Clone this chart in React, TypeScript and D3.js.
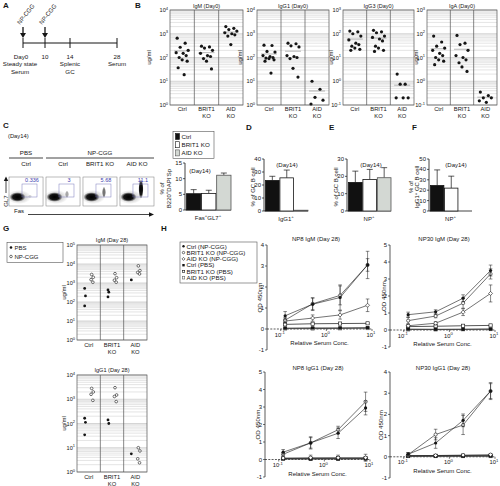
import React from 'react';
import * as d3 from 'd3';

const FONT = "'Liberation Sans', Arial, Helvetica, sans-serif";
const INK = '#151515';

// ===== Panel A: timeline =====
const timelineDays = [0, 10, 14, 28];
const timelineTop = ['Day0', '10', '14', '28'];
const timelineSub = [['Steady state', 'Serum'], [], ['Splenic', 'GC'], ['Serum']];
const injectionDays = [0, 10];
const injectionLabel = 'NP-CGG';

// ===== Panel B: Day0 serum Ig (ug/ml) =====
const groupNames = ['Ctrl', 'BRIT1 KO', 'AID KO'];
const groupLines = [['Ctrl'], ['BRIT1', 'KO'], ['AID', 'KO']];
const igmCtrl = [650, 400, 270, 200, 160, 150, 120, 100, 80, 70, 37, 19];
const igmBrit1 = [300, 280, 250, 200, 150, 120, 110, 90, 70, 33];
const igmAid = [2000, 1700, 1500, 1300, 1100, 1000, 900, 800, 350];
const igg1Ctrl = [330, 320, 180, 170, 120, 110, 100, 95, 90, 80, 70, 22];
const igg1Brit1 = [400, 380, 310, 280, 120, 110, 100, 90, 35, 15];
const igg1Aid = [10, 4.6, 2.1, 1.6, 1.1];
const igg3Ctrl = [130, 120, 100, 80, 55, 40, 35, 30, 25, 22, 20];
const igg3Brit1 = [140, 120, 110, 80, 70, 60, 50, 30, 25, 20, 18];
const igg3Aid = [2, 0.75, 0.75, 0.2, 0.2, 0.2];
const igaCtrl = [80, 45, 30, 25, 20, 15, 12, 10, 8, 7, 5];
const igaBrit1 = [85, 40, 35, 20, 12, 10, 8, 6, 4, 2.6];
const igaAid = [0.35, 0.25, 0.2, 0.2, 0.15, 0.13];

// ===== Panel C: flow + bar =====
const flowColumns = ['Ctrl', 'Ctrl', 'BRIT1 KO', 'AID KO'];
const flowTreatments = ['PBS', 'NP-CGG'];
const flowGatePct = [0.336, 3, 5.68, 11.1];
const gcFasGl7 = [5.2, 5.3, 11.1];
const gcFasGl7Err = [1.3, 1.0, 0.7];

// ===== Panels D, E, F =====
const igg1PosPct = [23.5, 25.5, 0.6];
const igg1PosErr = [3.2, 6, 0];
const npPosPct = [16.5, 18.2, 19.2];
const npPosErr = [6.5, 5.8, 5.8];
const npIgg1Pct = [24.5, 22, 0];
const npIgg1Err = [15, 11.5, 0];

// ===== Panel G: Day 28 serum Ig =====
const g28Treat = ['PBS', 'NP-CGG'];
const g28IgmPbs = [[520, 210, 62], [430, 330, 185], [1450]];
const g28IgmNp = [[2800, 2000, 1500, 1100], [3100, 1900, 1400, 1100], [8000, 4500, 3600, 3000]];
const g28Igg1Pbs = [[165, 112, 34], [140, 100], [5.6]];
const g28Igg1Np = [[2800, 2000, 1600, 900], [3000, 1500, 1300, 800], [10, 7.4, 3.5, 2.4]];

// ===== Panel H: ELISA OD450 =====
const dilutions = [0.125, 0.5, 2, 8];
const hSeriesNames = ['Ctrl (NP-CGG)', 'BRIT1 KO (NP-CGG)', 'AID KO (NP-CGG)', 'Ctrl (PBS)', 'BRIT1 KO (PBS)', 'AID KO (PBS)'];
const np8IgmMean = [[0.63, 1.18, 1.5, 3.05], [0.42, 1.2, 1.6, 3.05], [0.38, 0.52, 0.67, 1.13], [0.04, 0.05, 0.05, 0.06], [0.22, 0.25, 0.26, 0.27], [0.02, 0.02, 0.03, 0.04]];
const np8IgmErr = [[0.2, 0.3, 0.6, 0.65], [0.12, 0.28, 0.45, 0.3], [0.1, 0.15, 0.2, 0.3], [0.02, 0.02, 0.02, 0.02], [0.03, 0.03, 0.03, 0.03], [0.01, 0.01, 0.01, 0.01]];
const np30IgmMean = [[0.9, 1.07, 1.87, 3.5], [0.55, 0.82, 1.58, 3.3], [0.25, 0.4, 1.05, 2.15], [0.05, 0.04, 0.04, 0.05], [0.2, 0.22, 0.25, 0.27], [0.03, 0.03, 0.04, 0.05]];
const np30IgmErr = [[0.15, 0.12, 0.2, 0.32], [0.2, 0.1, 0.3, 0.3], [0.1, 0.1, 0.2, 0.5], [0.02, 0.02, 0.02, 0.02], [0.03, 0.03, 0.03, 0.03], [0.01, 0.01, 0.01, 0.01]];
const np8Igg1Mean = [[0.42, 0.95, 1.5, 2.95], [0.3, 0.95, 1.7, 3.3], [0.08, 0.1, 0.1, 0.1], [0.05, 0.05, 0.05, 0.05], [0.06, 0.06, 0.07, 0.07], [0.03, 0.03, 0.03, 0.04]];
const np8Igg1Err = [[0.15, 0.3, 0.3, 0.4], [0.1, 0.35, 0.2, 0.55], [0.05, 0.15, 0.15, 0.2], [0.02, 0.02, 0.02, 0.02], [0.02, 0.02, 0.02, 0.02], [0.01, 0.01, 0.01, 0.01]];
const np30Igg1Mean = [[0.12, 0.65, 1.72, 3.1], [0.1, 1.05, 1.5, 3.1], [0.05, 0.06, 0.08, 0.1], [0.03, 0.03, 0.03, 0.04], [0.05, 0.05, 0.06, 0.06], [0.03, 0.03, 0.03, 0.03]];
const np30Igg1Err = [[0.08, 0.25, 0.3, 0.35], [0.1, 0.25, 0.45, 0.4], [0.03, 0.03, 0.03, 0.04], [0.01, 0.01, 0.01, 0.01], [0.01, 0.01, 0.01, 0.01], [0.01, 0.01, 0.01, 0.01]];

// ---------- style / layout helpers ----------
const JITTER = [-5, 3, -2, 6, -6, 1, 4, -3, 0, 5, -4, 2, -1];
const NPJ = [0, 1.6, -0.6, 1.2, -1.2];
const barFills = ['#111', '#fff', '#d3d8d3'];
const hMarkers = ['fc', 'oc', 'od', 'fs', 'os', 'gs'];

function SupText({ x, y, base = '10', exp, size = 5.5, anchor = 'end' }: any) {
  return (
    <text x={x} y={y} fontSize={size} textAnchor={anchor} fill={INK}>
      {base}
      <tspan dy={-size * 0.42} fontSize={size * 0.72}>{exp}</tspan>
    </text>
  );
}

function rich(parts: string[], size: number) {
  let up = false;
  return parts.map((p, i) => {
    const sup = p.startsWith('^');
    const txt = sup ? p.slice(1) : p;
    const dy = sup === up ? 0 : sup ? -size * 0.4 : size * 0.4;
    up = sup;
    return (
      <tspan key={i} dy={dy} fontSize={sup ? size * 0.72 : size}>
        {txt}
      </tspan>
    );
  });
}

function Letter({ x, y, c }: any) {
  return (
    <text x={x} y={y} fontSize={8} fontWeight="bold" fill={INK}>
      {c}
    </text>
  );
}

function Marker({ type, x, y, s = 1.7 }: any) {
  const sw = 0.6;
  switch (type) {
    case 'fc':
      return <circle cx={x} cy={y} r={s} fill={INK} />;
    case 'oc':
      return <circle cx={x} cy={y} r={s} fill="#fff" stroke={INK} strokeWidth={sw} />;
    case 'od':
      return (
        <path
          d={`M${x},${y - s * 1.25}L${x + s * 1.25},${y}L${x},${y + s * 1.25}L${x - s * 1.25},${y}Z`}
          fill="#fff"
          stroke={INK}
          strokeWidth={sw}
        />
      );
    case 'fs':
      return <rect x={x - s} y={y - s} width={2 * s} height={2 * s} fill={INK} />;
    case 'os':
      return <rect x={x - s} y={y - s} width={2 * s} height={2 * s} fill="#fff" stroke={INK} strokeWidth={sw} />;
    default:
      return <rect x={x - s} y={y - s} width={2 * s} height={2 * s} fill="#fff" stroke="#666" strokeWidth={sw} />;
  }
}

// ---------- Panel A ----------
function PanelA() {
  const x = d3.scaleLinear().domain(timelineDays).range([23, 45, 70, 117]);
  const yl = 43;
  return (
    <g>
      <Letter x={3} y={8} c="A" />
      <line x1={x(0)} x2={x(28)} y1={yl} y2={yl} stroke={INK} strokeWidth={1} />
      {timelineDays.map((d, i) => (
        <g key={i}>
          <line x1={x(d)} x2={x(d)} y1={yl - 5} y2={yl + 5} stroke={INK} strokeWidth={1} />
          <text x={x(d) - (i === 0 ? 2 : 0)} y={58.5} fontSize={6.2} textAnchor="middle">
            {timelineTop[i]}
          </text>
          {timelineSub[i].map((s, j) => (
            <text key={j} x={x(d) - (i === 0 ? 3 : 0)} y={66 + j * 8} fontSize={6.2} textAnchor="middle">
              {s}
            </text>
          ))}
        </g>
      ))}
      {injectionDays.map((d, i) => (
        <g key={i}>
          <line x1={x(d)} x2={x(d)} y1={27} y2={34} stroke={INK} strokeWidth={1.3} />
          <path d={`M${x(d) - 3},33L${x(d) + 3},33L${x(d)},38Z`} fill={INK} />
          <text transform={`translate(${x(d) - 3},25) rotate(-52)`} fontSize={6}>
            {injectionLabel}
          </text>
        </g>
      ))}
    </g>
  );
}

// ---------- log grid ----------
function LogGrid({ l, r, y, lo, hi }: any) {
  const e0 = Math.round(Math.log10(lo));
  const e1 = Math.round(Math.log10(hi));
  const minor: number[] = [];
  d3.range(e0, e1).forEach((e) => d3.range(2, 10).forEach((m) => minor.push(m * Math.pow(10, e))));
  return (
    <g>
      {minor.map((v, i) => (
        <line key={i} x1={l} x2={r} y1={y(v)} y2={y(v)} stroke="#c9c9c9" strokeWidth={0.5} />
      ))}
      {d3.range(e0, e1 + 1).map((e) => (
        <line key={'d' + e} x1={l} x2={r} y1={y(Math.pow(10, e))} y2={y(Math.pow(10, e))} stroke="#aaa" strokeWidth={0.5} />
      ))}
      {d3.range(e0, e1 + 1).map((e) => (
        <SupText key={'t' + e} x={l - 2} y={y(Math.pow(10, e)) + 2} exp={String(e)} size={5.6} />
      ))}
    </g>
  );
}

// ---------- Panel B ----------
const bPanels = [
  { title: 'IgM (Day0)', l: 170, r: 243, lo: 1, hi: 1e4, data: [igmCtrl, igmBrit1, igmAid], ylabX: 151 },
  { title: 'IgG1 (Day0)', l: 257, r: 329, lo: 1, hi: 1e4, data: [igg1Ctrl, igg1Brit1, igg1Aid], ylabX: 242 },
  { title: 'IgG3 (Day0)', l: 343, r: 414, lo: 0.1, hi: 1e3, data: [igg3Ctrl, igg3Brit1, igg3Aid], ylabX: 333 },
  { title: 'IgA (Day0)', l: 427, r: 497, lo: 0.1, hi: 1e3, data: [igaCtrl, igaBrit1, igaAid], ylabX: 418 },
];

function DotPanelB({ cfg }: any) {
  const { title, l, r, lo, hi, data, ylabX } = cfg;
  const t = 10;
  const b = 105;
  const y = d3.scaleLog().domain([lo, hi]).range([b, t]);
  const x = d3.scaleBand<string>().domain(groupNames).range([l, r]);
  const bw = x.bandwidth();
  return (
    <g>
      <text x={(l + r) / 2} y={7.5} fontSize={5.5} textAnchor="middle">
        {title}
      </text>
      <LogGrid l={l} r={r} y={y} lo={lo} hi={hi} />
      <rect x={l} y={t} width={r - l} height={b - t} fill="none" stroke="#555" strokeWidth={0.7} />
      {groupNames.slice(1).map((g) => (
        <line key={g} x1={x(g)} x2={x(g)} y1={t} y2={b} stroke="#555" strokeWidth={0.7} />
      ))}
      <text transform={`translate(${ylabX},${(t + b) / 2}) rotate(-90)`} fontSize={6} textAnchor="middle">
        ug/ml
      </text>
      {data.map((vals: number[], gi: number) => {
        const cx = (x(groupNames[gi]) as number) + bw / 2;
        const m = d3.mean(vals) as number;
        return (
          <g key={gi}>
            <line x1={cx - 8} x2={cx + 8} y1={y(m)} y2={y(m)} stroke="#8a8a8a" strokeWidth={0.6} />
            {vals.map((v, i) => (
              <circle key={i} cx={cx + JITTER[i % JITTER.length]} cy={y(v)} r={1.6} fill={INK} />
            ))}
          </g>
        );
      })}
      {groupLines.map((lines, gi) =>
        lines.map((s, j) => (
          <text key={gi + '-' + j} x={(x(groupNames[gi]) as number) + bw / 2} y={b + 6 + j * 7} fontSize={5.8} textAnchor="middle">
            {s}
          </text>
        ))
      )}
    </g>
  );
}

function PanelB() {
  return (
    <g>
      <Letter x={135} y={8} c="B" />
      {bPanels.map((c, i) => (
        <DotPanelB key={i} cfg={c} />
      ))}
    </g>
  );
}

// ---------- Panel C flow ----------
function PanelCFlow() {
  const bx = d3.scaleBand<number>().domain(d3.range(4)).range([9, 154]).paddingInner(0.08);
  const bw = bx.bandwidth();
  const top = 177;
  const bottom = 206;
  const ry = d3.scaleLinear().domain([0, 11.1]).range([1.5, 9.8]);
  const op = d3.scaleLinear().domain([0, 11.1]).range([0.12, 1]);
  const hdr = [
    { label: flowTreatments[0], x0: bx(0)!, x1: bx(0)! + bw },
    { label: flowTreatments[1], x0: bx(1)!, x1: bx(3)! + bw },
  ];
  return (
    <g>
      <Letter x={3} y={128} c="C" />
      <text x={8} y={138} fontSize={5.8}>
        (Day14)
      </text>
      {hdr.map((h, i) => (
        <g key={i}>
          <text x={(h.x0 + h.x1) / 2} y={155} fontSize={6.2} textAnchor="middle">
            {h.label}
          </text>
          <line x1={h.x0} x2={h.x1} y1={158} y2={158} stroke={INK} strokeWidth={0.8} />
        </g>
      ))}
      {flowColumns.map((c, i) => {
        const x0 = bx(i)!;
        const gx = x0 + 13;
        const pct = flowGatePct[i];
        const r = ry(pct);
        return (
          <g key={i}>
            <text x={x0 + bw / 2} y={166} fontSize={6.2} textAnchor="middle">
              {c}
            </text>
            <rect x={x0} y={top} width={bw} height={bottom - top} fill="#fff" stroke="#777" strokeWidth={0.5} />
            <ellipse cx={x0 + 10} cy={bottom - 9} rx={12} ry={7} fill="url(#haloG)" />
            <ellipse cx={x0 + 8.5} cy={bottom - 9} rx={8} ry={4.8} fill="url(#blobG)" />
            <ellipse cx={gx + 8} cy={197 - Math.min(r, 9) + 1} rx={i === 3 ? 2.6 : 2} ry={r} fill="url(#blobG)" opacity={op(pct)} />
            <rect x={gx} y={184} width={15} height={13} fill="none" stroke="#7b7bbd" strokeWidth={0.5} />
            <text x={gx + 10} y={182} fontSize={5.5} fill="#4040b0" textAnchor="middle">
              {pct}
            </text>
          </g>
        );
      })}
      <line x1={6} x2={6} y1={193} y2={180} stroke={INK} strokeWidth={0.8} />
      <path d="M3.8,181L8.2,181L6,176.5Z" fill={INK} />
      <text transform="translate(8,201) rotate(-90)" fontSize={6} textAnchor="middle">
        GL7
      </text>
      <text x={14} y={213} fontSize={6}>
        Fas
      </text>
      <line x1={28} x2={150} y1={214.5} y2={214.5} stroke={INK} strokeWidth={0.8} />
      <path d="M149,212.3L149,216.7L154,214.5Z" fill={INK} />
    </g>
  );
}

// ---------- Bar panels ----------
function BarPanel({ axisX, right, y0px, ytopPx, max, step, values, errs, xlabel, ylabel, ylabelX, dayY = 167, dayX }: any) {
  const y = d3.scaleLinear().domain([0, max]).range([y0px, ytopPx]);
  const x = d3.scaleBand<string>().domain(groupNames).range([axisX + 1.5, right]).paddingInner(0.05);
  const bw = x.bandwidth();
  return (
    <g>
      <line x1={axisX} x2={axisX} y1={ytopPx} y2={y0px} stroke={INK} strokeWidth={0.8} />
      <line x1={axisX} x2={right} y1={y0px} y2={y0px} stroke={INK} strokeWidth={0.8} />
      {d3.range(0, max + 0.001, step).map((v) => (
        <g key={v}>
          <line x1={axisX - 2} x2={axisX} y1={y(v)} y2={y(v)} stroke={INK} strokeWidth={0.7} />
          <text x={axisX - 3} y={y(v) + 2} fontSize={6} textAnchor="end">
            {v}
          </text>
        </g>
      ))}
      <text x={dayX} y={dayY} fontSize={6} textAnchor="middle">
        (Day14)
      </text>
      {values.map((v: number, i: number) => {
        const x0 = x(groupNames[i]) as number;
        const e = errs[i];
        return (
          <g key={i}>
            {e > 0 && (
              <g>
                <line x1={x0 + bw / 2} x2={x0 + bw / 2} y1={y(v)} y2={y(v + e)} stroke={INK} strokeWidth={0.7} />
                <line x1={x0 + bw / 2 - 3} x2={x0 + bw / 2 + 3} y1={y(v + e)} y2={y(v + e)} stroke={INK} strokeWidth={0.7} />
              </g>
            )}
            {v > 0 && (
              <rect x={x0} y={y(v)} width={bw} height={y(0) - y(v)} fill={barFills[i]} stroke={i === 2 ? '#555' : INK} strokeWidth={0.8} />
            )}
          </g>
        );
      })}
      <text x={(axisX + right) / 2} y={y0px + 9.5} fontSize={6} textAnchor="middle">
        {rich(xlabel, 6)}
      </text>
      {ylabel.map((parts: string[], j: number) => (
        <text key={j} transform={`translate(${ylabelX[j]},${(y0px + ytopPx) / 2 + 2}) rotate(-90)`} fontSize={6} textAnchor="middle">
          {rich(parts, 6)}
        </text>
      ))}
    </g>
  );
}

function PanelCBar() {
  const legendItems = groupNames;
  return (
    <g>
      <rect x={173} y={131.5} width={41} height={27} fill="#fff" stroke="#555" strokeWidth={0.6} />
      {legendItems.map((g, i) => (
        <g key={g}>
          <rect x={175.5} y={133.5 + i * 8.2} width={4} height={6} fill={barFills[i]} stroke={i === 2 ? '#555' : INK} strokeWidth={0.6} />
          <text x={181.5} y={139 + i * 8.2} fontSize={6.2}>
            {g}
          </text>
        </g>
      ))}
      <BarPanel
        axisX={185}
        right={231}
        y0px={210}
        ytopPx={163}
        max={15}
        step={5}
        values={gcFasGl7}
        errs={gcFasGl7Err}
        xlabel={['Fas', '^+', 'GL7', '^+']}
        ylabel={[['% of'], ['B220', '^+', 'DAPI', '^-', 'Sp']]}
        ylabelX={[164, 170.5]}
        dayY={173}
        dayX={200}
      />
    </g>
  );
}

function PanelDEF() {
  return (
    <g>
      <Letter x={246} y={130} c="D" />
      <Letter x={329} y={130} c="E" />
      <Letter x={412} y={130} c="F" />
      <BarPanel axisX={264} right={308} y0px={211} ytopPx={159} max={40} step={10} values={igg1PosPct} errs={igg1PosErr}
        xlabel={['IgG1', '^+']} ylabel={[['% of GC B cell']]} ylabelX={[255]} dayX={287} />
      <BarPanel axisX={347} right={391} y0px={211} ytopPx={159} max={30} step={10} values={npPosPct} errs={npPosErr}
        xlabel={['NP', '^+']} ylabel={[['% of GC B cell']]} ylabelX={[338]} dayX={371} />
      <BarPanel axisX={429} right={472} y0px={211} ytopPx={159} max={50} step={10} values={npIgg1Pct} errs={npIgg1Err}
        xlabel={['NP', '^+']} ylabel={[['% of'], ['IgG1', '^+', ' GC B cell']]} ylabelX={[413, 419]} dayX={456} />
    </g>
  );
}

// ---------- Panel G ----------
const gPanels = [
  { title: 'IgM (Day 28)', t: 245, b: 340, lo: 1, hi: 1e5, pbs: g28IgmPbs, np: g28IgmNp, titleY: 242 },
  { title: 'IgG1 (Day 28)', t: 375, b: 472, lo: 1, hi: 1e4, pbs: g28Igg1Pbs, np: g28Igg1Np, titleY: 371.5 },
];

function DotPanelG({ cfg }: any) {
  const { title, t, b, lo, hi, pbs, np, titleY } = cfg;
  const l = 77;
  const r = 147;
  const y = d3.scaleLog().domain([lo, hi]).range([b, t]);
  const x = d3.scaleBand<string>().domain(groupNames).range([l, r]);
  const bw = x.bandwidth();
  return (
    <g>
      <text x={(l + r) / 2} y={titleY} fontSize={5.6} textAnchor="middle">
        {title}
      </text>
      <LogGrid l={l} r={r} y={y} lo={lo} hi={hi} />
      <rect x={l} y={t} width={r - l} height={b - t} fill="none" stroke="#555" strokeWidth={0.7} />
      {groupNames.slice(1).map((g) => (
        <line key={g} x1={x(g)} x2={x(g)} y1={t} y2={b} stroke="#555" strokeWidth={0.7} />
      ))}
      <text transform={`translate(${65.5},${(t + b) / 2}) rotate(-90)`} fontSize={6} textAnchor="middle">
        ug/ml
      </text>
      {groupNames.map((g, gi) => {
        const cx = (x(g) as number) + bw / 2;
        return (
          <g key={g}>
            {pbs[gi].map((v: number, i: number) => (
              <Marker key={'p' + i} type="fc" x={cx - 4 + (i % 2 ? 0.8 : 0)} y={y(v)} s={1.4} />
            ))}
            {np[gi].map((v: number, i: number) => (
              <Marker key={'n' + i} type="oc" x={cx + 3 + NPJ[i % NPJ.length]} y={y(v)} s={1.35} />
            ))}
            {groupLines[gi].map((s, j) => (
              <text key={j} x={cx} y={b + 7 + j * 7} fontSize={5.8} textAnchor="middle">
                {s}
              </text>
            ))}
          </g>
        );
      })}
    </g>
  );
}

function PanelG() {
  return (
    <g>
      <Letter x={3} y={231} c="G" />
      <rect x={7} y={242.5} width={56} height={20} fill="#fff" stroke="#555" strokeWidth={0.6} />
      {g28Treat.map((tname, i) => (
        <g key={tname}>
          <Marker type={i === 0 ? 'fc' : 'oc'} x={11} y={247.5 + i * 9} s={1.3} />
          <text x={14.5} y={249.7 + i * 9} fontSize={6}>
            {tname}
          </text>
        </g>
      ))}
      {gPanels.map((c, i) => (
        <DotPanelG key={i} cfg={c} />
      ))}
    </g>
  );
}

// ---------- Panel H ----------
const hPanels = [
  { title: 'NP8 IgM (Day 28)', axisX: 267, right: 372, yTop: 245, yBottom: 350, yMax: 4, mean: np8IgmMean, err: np8IgmErr, titleY: 241, cx: 316, ylabX: 262 },
  { title: 'NP30 IgM (Day 28)', axisX: 390, right: 495, yTop: 245, yBottom: 347, yMax: 5, mean: np30IgmMean, err: np30IgmErr, titleY: 241, cx: 444, ylabX: 386 },
  { title: 'NP8 IgG1 (Day 28)', axisX: 265, right: 370, yTop: 372, yBottom: 477, yMax: 5, mean: np8Igg1Mean, err: np8Igg1Err, titleY: 369.5, cx: 318, ylabX: 260 },
  { title: 'NP30 IgG1 (Day 28)', axisX: 390, right: 495, yTop: 372, yBottom: 478, yMax: 4, mean: np30Igg1Mean, err: np30Igg1Err, titleY: 369.5, cx: 443, ylabX: 383 },
];

function ODPanel({ cfg }: any) {
  const { title, axisX, right, yTop, yBottom, yMax, mean, err, titleY, cx, ylabX } = cfg;
  const x = d3.scaleLog().domain([0.05, 10]).range([axisX, right]);
  const y = d3.scaleLinear().domain([-1, yMax]).range([yBottom, yTop]);
  const line = d3
    .line<number>()
    .x((_, i) => x(dilutions[i]))
    .y((d) => y(d));
  const order = [5, 4, 3, 2, 1, 0];
  return (
    <g>
      <text x={cx} y={titleY} fontSize={6} textAnchor="middle">
        {title}
      </text>
      <line x1={axisX} x2={axisX} y1={yTop} y2={yBottom} stroke={INK} strokeWidth={0.7} />
      {d3.range(-1, yMax + 1).map((v) => (
        <g key={v}>
          <line x1={axisX - 2} x2={axisX} y1={y(v)} y2={y(v)} stroke={INK} strokeWidth={0.6} />
          <text x={axisX - 3} y={y(v) + 2} fontSize={6} textAnchor="end">
            {v}
          </text>
        </g>
      ))}
      <line x1={axisX} x2={right} y1={y(0)} y2={y(0)} stroke={INK} strokeWidth={0.7} strokeDasharray="2,1.3" />
      {[-1, 0, 1].map((e) => (
        <g key={e}>
          <line x1={x(Math.pow(10, e))} x2={x(Math.pow(10, e))} y1={y(0)} y2={y(0) + 2} stroke={INK} strokeWidth={0.6} />
          <SupText x={x(Math.pow(10, e)) - 1} y={y(0) + 7.5} exp={String(e)} size={5.8} anchor="middle" />
        </g>
      ))}
      <text x={(axisX + right) / 2} y={y(0) + 16} fontSize={6} textAnchor="middle">
        Relative Serum Conc.
      </text>
      <text transform={`translate(${ylabX},${(yTop + yBottom) / 2}) rotate(-90)`} fontSize={6.2} textAnchor="middle">
        OD 450nm
      </text>
      {order.map((si) => (
        <g key={si}>
          <path d={line(mean[si]) as string} fill="none" stroke={si >= 3 ? '#444' : INK} strokeWidth={si >= 3 ? 0.9 : 0.6} />
          {mean[si].map((v: number, i: number) => {
            const e = err[si][i];
            const px = x(dilutions[i]);
            return (
              <g key={i}>
                <line x1={px} x2={px} y1={y(v - e)} y2={y(v + e)} stroke={INK} strokeWidth={0.5} />
                <line x1={px - 1.8} x2={px + 1.8} y1={y(v + e)} y2={y(v + e)} stroke={INK} strokeWidth={0.5} />
                <line x1={px - 1.8} x2={px + 1.8} y1={y(v - e)} y2={y(v - e)} stroke={INK} strokeWidth={0.5} />
                <Marker type={hMarkers[si]} x={px} y={y(v)} s={1.6} />
              </g>
            );
          })}
        </g>
      ))}
    </g>
  );
}

function PanelH() {
  return (
    <g>
      <Letter x={161} y={231} c="H" />
      <rect x={180} y={242} width={77} height={41} fill="#fff" stroke="#555" strokeWidth={0.6} />
      {hSeriesNames.map((n, i) => (
        <g key={n}>
          <Marker type={hMarkers[i]} x={183.5} y={246.3 + i * 6.3} s={1.2} />
          <text x={186.5} y={248.5 + i * 6.3} fontSize={6.2}>
            {n}
          </text>
        </g>
      ))}
      {hPanels.map((c, i) => (
        <ODPanel key={i} cfg={c} />
      ))}
    </g>
  );
}

export default function App() {
  return (
    <svg
      width={500}
      height={486}
      viewBox="0 0 500 486"
      style={{ position: 'absolute', left: 0, top: 0, background: '#fff' }}
      fontFamily={FONT}
      fill={INK}
    >
      <defs>
        <radialGradient id="blobG">
          <stop offset="0%" stopColor="#000" stopOpacity={1} />
          <stop offset="60%" stopColor="#000" stopOpacity={0.9} />
          <stop offset="100%" stopColor="#000" stopOpacity={0} />
        </radialGradient>
        <radialGradient id="haloG">
          <stop offset="0%" stopColor="#000" stopOpacity={0.35} />
          <stop offset="100%" stopColor="#000" stopOpacity={0} />
        </radialGradient>
      </defs>
      <rect x={0} y={0} width={500} height={486} fill="#fff" />
      <PanelA />
      <PanelB />
      <PanelCFlow />
      <PanelCBar />
      <PanelDEF />
      <PanelG />
      <PanelH />
    </svg>
  );
}
